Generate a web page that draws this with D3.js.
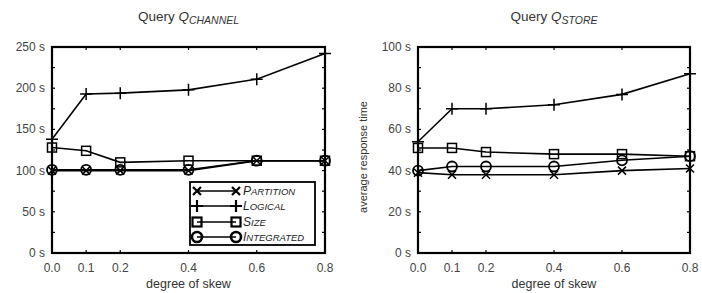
<!DOCTYPE html>
<meta charset="utf-8">
<script src="https://d3js.org/d3.v7.min.js"></script>
<style>
  body { margin: 0; background: #fff; }
  text { font-family: "Liberation Sans", Arial, sans-serif; }
</style>
<div id="chart"></div>
<script>
  // degree of skew
  var skew = [0.0, 0.1, 0.2, 0.4, 0.6, 0.8];
  var xTicks = [0.0, 0.1, 0.2, 0.4, 0.6, 0.8];

  // Query Q_CHANNEL (seconds)
  var channelPartition  = [100, 100, 100, 100, 112, 112];
  var channelLogical    = [138, 193, 194, 198, 211, 242];
  var channelSize       = [128, 124, 110, 112, 112, 112];
  var channelIntegrated = [101, 101, 101, 101, 112, 112];
  var channelTicks = [0, 50, 100, 150, 200, 250];

  // Query Q_STORE (seconds)
  var storePartition  = [39, 38, 38, 38, 40, 41];
  var storeLogical    = [54, 70, 70, 72, 77, 87];
  var storeSize       = [51, 51, 49, 48, 48, 47];
  var storeIntegrated = [40, 42, 42, 42, 45, 47];
  var storeTicks = [0, 20, 40, 60, 80, 100];

  var seriesNames = ["PARTITION", "LOGICAL", "SIZE", "INTEGRATED"];
  var markers = ["x", "plus", "square", "circle"];

  var svg = d3.select("#chart").append("svg")
    .attr("width", 702)
    .attr("height", 293);

  function marker(g, type, cx, cy, bold) {
    var sw = bold ? 2.2 : 1.5;
    if (type == "x") {
      g.append("path").attr("d", "M" + (cx-4) + "," + (cy-4) + "L" + (cx+4) + "," + (cy+4) +
        "M" + (cx-4) + "," + (cy+4) + "L" + (cx+4) + "," + (cy-4))
        .attr("stroke", "#000").attr("stroke-width", sw);
    } else if (type == "plus") {
      g.append("path").attr("d", "M" + (cx-6) + "," + cy + "L" + (cx+6) + "," + cy +
        "M" + cx + "," + (cy-6) + "L" + cx + "," + (cy+6))
        .attr("stroke", "#000").attr("stroke-width", sw);
    } else if (type == "square") {
      g.append("rect").attr("x", cx-4.5).attr("y", cy-4.5).attr("width", 9).attr("height", 9)
        .attr("fill", "none").attr("stroke", "#000").attr("stroke-width", sw);
    } else {
      g.append("circle").attr("cx", cx).attr("cy", cy).attr("r", 5)
        .attr("fill", "none").attr("stroke", "#000").attr("stroke-width", bold ? 2.6 : 1.8);
    }
  }

  function drawPanel(opt) {
    var x = d3.scaleLinear().domain([0, 0.8]).range([opt.x0, opt.x1]);
    var y = d3.scaleLinear().domain([0, opt.max]).range([253, 47]);
    var g = svg.append("g");

    // minor ticks at midpoints
    var step = opt.ticks[1] - opt.ticks[0];
    var minor = opt.ticks.slice(0, -1).map(function(t) { return t + step / 2; });

    // ticks (inside, on all four sides)
    opt.ticks.concat(minor).forEach(function(t) {
      g.append("line").attr("x1", opt.x0).attr("x2", opt.x0 + 3).attr("y1", y(t)).attr("y2", y(t))
        .attr("stroke", "#000").attr("stroke-width", 1.2);
      g.append("line").attr("x1", opt.x1).attr("x2", opt.x1 - 3).attr("y1", y(t)).attr("y2", y(t))
        .attr("stroke", "#000").attr("stroke-width", 1.2);
    });
    xTicks.forEach(function(t) {
      g.append("line").attr("x1", x(t)).attr("x2", x(t)).attr("y1", 253).attr("y2", 250)
        .attr("stroke", "#000").attr("stroke-width", 1.2);
      g.append("line").attr("x1", x(t)).attr("x2", x(t)).attr("y1", 47).attr("y2", 50)
        .attr("stroke", "#000").attr("stroke-width", 1.2);
    });

    // y tick labels
    g.selectAll(".yl").data(opt.ticks).enter().append("text")
      .attr("x", opt.x0 - 7).attr("y", function(d) { return y(d) + 4; })
      .attr("text-anchor", "end").attr("font-size", 12).attr("fill", "#444")
      .text(function(d) { return d + " s"; });

    // x tick labels
    g.selectAll(".xl").data(xTicks).enter().append("text")
      .attr("x", function(d) { return x(d); }).attr("y", 272)
      .attr("text-anchor", "middle").attr("font-size", 12).attr("fill", "#444")
      .text(function(d) { return d.toFixed(1); });

    // x axis label
    g.append("text").attr("x", (opt.x0 + opt.x1) / 2).attr("y", 288)
      .attr("text-anchor", "middle").attr("font-size", 12.5).attr("fill", "#333")
      .text("degree of skew");

    // title
    var title = g.append("text").attr("x", (opt.x0 + opt.x1) / 2).attr("y", 21)
      .attr("text-anchor", "middle").attr("font-size", 13.5).attr("fill", "#333");
    title.append("tspan").text("Query ");
    title.append("tspan").attr("font-style", "italic").text("Q");
    title.append("tspan").attr("font-style", "italic").attr("font-size", 10.5).attr("dy", 3).text(opt.sub);

    // series lines and markers
    var line = d3.line()
      .x(function(d, i) { return x(skew[i]); })
      .y(function(d) { return y(d); });
    opt.series.forEach(function(s, k) {
      g.append("path").datum(s).attr("d", line)
        .attr("fill", "none").attr("stroke", "#000").attr("stroke-width", 1.6);
      s.forEach(function(v, i) { marker(g, markers[k], x(skew[i]), y(v), false); });
    });

    // frame
    g.append("rect").attr("x", opt.x0).attr("y", 47)
      .attr("width", opt.x1 - opt.x0).attr("height", 206)
      .attr("fill", "none").attr("stroke", "#000").attr("stroke-width", 2.2);
    return g;
  }

  drawPanel({x0: 52, x1: 325, max: 250, ticks: channelTicks, sub: "CHANNEL",
    series: [channelPartition, channelLogical, channelSize, channelIntegrated]});
  drawPanel({x0: 418, x1: 690, max: 100, ticks: storeTicks, sub: "STORE",
    series: [storePartition, storeLogical, storeSize, storeIntegrated]});

  // y axis label of right panel
  svg.append("text").attr("transform", "translate(367,157) rotate(-90)")
    .attr("text-anchor", "middle").attr("font-size", 11).attr("fill", "#333")
    .text("average response time");

  // legend (inside left panel)
  var leg = svg.append("g");
  leg.append("rect").attr("x", 190).attr("y", 182).attr("width", 125).attr("height", 63)
    .attr("fill", "#fff").attr("stroke", "#000").attr("stroke-width", 1.8);
  var rowY = [191, 206, 222, 237];
  seriesNames.forEach(function(name, k) {
    leg.append("line").attr("x1", 197).attr("x2", 236).attr("y1", rowY[k]).attr("y2", rowY[k])
      .attr("stroke", "#000").attr("stroke-width", 1.6);
    marker(leg, markers[k], 197, rowY[k], true);
    marker(leg, markers[k], 236, rowY[k], true);
    var t = leg.append("text").attr("x", 243).attr("y", rowY[k] + 4)
      .attr("font-size", 12).attr("font-style", "italic").attr("fill", "#222");
    t.append("tspan").text(name[0]);
    t.append("tspan").attr("font-size", 9.5).text(name.slice(1));
  });
</script>
